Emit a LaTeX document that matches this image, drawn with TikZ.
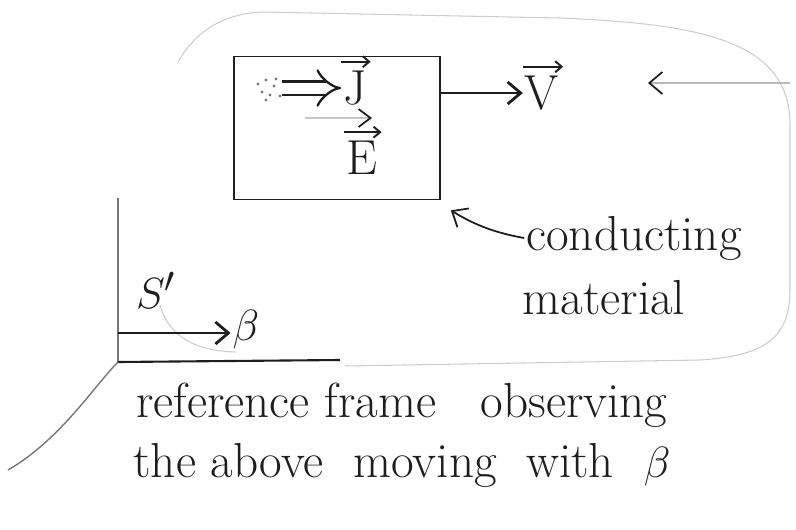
\documentclass[tikz,border=0pt]{standalone}
\usepackage{amsmath,amssymb}
\usepackage{xcolor}
\usepackage{tikz}
\usetikzlibrary{arrows.meta,positioning,calc}
\definecolor{inkBlack}{RGB}{30,30,30}
\definecolor{faintGray}{RGB}{205,205,205}
\definecolor{midGray}{RGB}{120,120,120}

\begin{document}
\begin{tikzpicture}[
    x=0.02cm, y=-0.02cm,
    every node/.style={font=\fontsize{28}{32}\selectfont, text=inkBlack, inner sep=1pt},
    material/.style={rectangle, draw=inkBlack, line width=1pt, minimum width=4.12cm,
        minimum height=2.86cm, inner sep=0pt},
    arrow/.style={-{Straight Barb[length=2.6mm, width=4.4mm]}, line width=1.6pt, inkBlack},
    thinarrow/.style={-{Straight Barb[length=2.6mm, width=4.4mm]}, line width=1pt, inkBlack},
    vecbar/.style={-{Straight Barb[length=1.3mm, width=2.2mm]}, line width=1.1pt, inkBlack},
    outline/.style={draw=faintGray, line width=0.6pt},
    ]
    \useasboundingbox (0,0) rectangle (796,529);
    % Faint outline round the moving material
    \draw[outline] (178,62) .. controls (195,32) and (222,14) .. (262,12)
      -- (560,18) .. controls (705,24) and (790,42) .. (790,125)
      -- (790,290) .. controls (790,340) and (762,356) .. (700,360) -- (345,366);
    \draw[outline] (160,305) .. controls (170,340) and (200,351) .. (236,352);
    % Conducting block
    \node[material] (block) at (337,128) {};
    \node (Jvec) at (355,88) {J};
    \node (Evec) at (362,158) {E};
    \node (Vvec) at (542,93) {V};
    \foreach \v in {Jvec,Evec,Vvec}
      \draw[vecbar] ($(\v.north west)+(0,-7)$) -- ($(\v.north east)+(2,-7)$);
    \coordinate (jtail) at (282,88);
    \coordinate (etail) at (305,118);
    \coordinate (ehead) at (372,118);
    % Specks at the start of the current
    \foreach \p in {(258,84),(266,80),(274,86),(262,92),(270,95),(280,96),(276,79),(266,100)}
      \fill[midGray] \p circle (0.9pt);
    % Arrows inside and outside the block
    \draw[double=white, double distance=2.2mm, line width=1.3pt, inkBlack,
      -{Implies[length=3mm]}] (jtail) -- (Jvec.west |- jtail);
    \draw[gray!45, line width=1.2pt, -{Straight Barb[length=2.4mm, width=3.6mm, color=inkBlack, line width=1pt]}]
      (etail) -- (ehead);
    \draw[arrow] (block.east |- 0,93) -- (Vvec.west |- 0,93);
    \coordinate (rstart) at (790,83);
    \coordinate (rend) at (648,83);
    \draw[gray!55, line width=0.8pt, -{Straight Barb[length=2.6mm, width=4.4mm, color=inkBlack, line width=1pt]}]
      (rstart) -- (rend);
    % Label of the block
    \node (cond) at (634,238) {conducting};
    \node (matl) at (604,298) {material};
    \draw[thinarrow] (cond.west) .. controls (490,232) and (470,222) .. ($(block.south east)+(10,10)$);
    % Frame S'
    \coordinate (origin) at (118,362);
    \node (Sprime) at (156,290) {$S'$};
    \node (beta) at (246,330) {$\beta$};
    \draw[midGray, line width=0.7pt] (118,198) -- (origin);
    \draw[inkBlack, line width=1.2pt] (origin) -- (340,360);
    \draw[arrow] (origin |- 0,333) -- (beta.west |- 0,333);
    \draw[midGray, line width=0.8pt] (origin) .. controls (95,385) and (60,440) .. (8,470);
    % Caption
    \node (capA) at (402,405) {reference frame\ \ \ observing};
    \node (capB) at (402,465) {the above\ \ moving\ \ with\ \ $\beta$};
\end{tikzpicture}
\end{document}
